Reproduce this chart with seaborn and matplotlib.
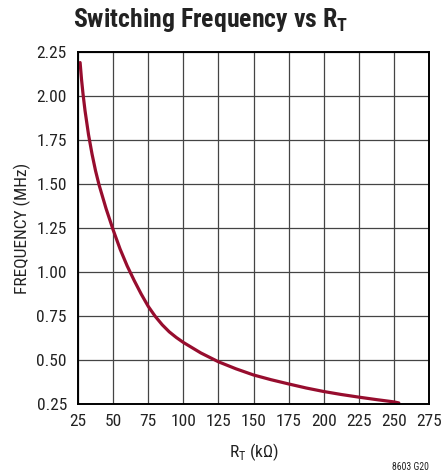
import matplotlib
matplotlib.use("Agg")
import matplotlib.pyplot as plt
import seaborn as sns
import pandas as pd

# Data
rt_kohm = [26.5, 27.5, 28.6, 30, 32.5, 35, 37.5, 40, 45, 50, 55, 60, 65, 70, 75,
           80, 85, 90, 95, 100, 112.5, 125, 137.5, 150, 162.5, 175, 187.5, 200,
           212.5, 225, 237.5, 250, 253.5]
freq_mhz = [2.19, 2.095, 2.01, 1.917, 1.78, 1.67, 1.575, 1.495, 1.36, 1.24, 1.13,
            1.035, 0.952, 0.875, 0.805, 0.748, 0.70, 0.66, 0.628, 0.60, 0.54,
            0.49, 0.45, 0.415, 0.388, 0.364, 0.341, 0.321, 0.304, 0.289, 0.275,
            0.262, 0.256]
x_ticks = [25, 50, 75, 100, 125, 150, 175, 200, 225, 250, 275]
y_ticks = [0.25, 0.50, 0.75, 1.00, 1.25, 1.50, 1.75, 2.00, 2.25]

df = pd.DataFrame({"RT": rt_kohm, "F": freq_mhz})

sns.set_theme(style="white")
FAM = ["Roboto Condensed", "Liberation Sans Narrow", "Roboto", "DejaVu Sans"]
plt.rcParams["font.family"] = FAM

fig = plt.figure(figsize=(4.45, 4.76), dpi=100)
ax = fig.add_axes([78/445, 1-404/476, (429-78)/445, (404-52)/476])

sns.lineplot(data=df, x="RT", y="F", ax=ax, color="#970d2e", linewidth=2.3,
             estimator=None, sort=False)

ax.set_xlim(25, 275)
ax.set_ylim(0.25, 2.25)
ax.set_xticks(x_ticks)
ax.set_yticks(y_ticks)
ax.set_xticklabels([str(v) for v in x_ticks])
ax.set_yticklabels([f"{v:.2f}" for v in y_ticks])
ax.grid(True, color="#444444", linewidth=0.9)
ax.set_axisbelow(True)
for s in ax.spines.values():
    s.set_color("black")
    s.set_linewidth(1.4)
ax.tick_params(axis="x", length=0, pad=7, labelsize=12.5, colors="#222222")
ax.tick_params(axis="y", length=0, pad=8, labelsize=12.5, colors="#222222")
ax.set_xlabel(r"R$_\mathregular{T}$ (kΩ)", fontsize=12.5, color="#222222", labelpad=9)
ax.set_ylabel("FREQUENCY (MHz)", fontsize=12.5, color="#222222", labelpad=4)

fig.text(211/445, 1-20/476, r"Switching Frequency vs R$_\mathregular{T}$",
         ha="center", va="center", fontsize=18.5, fontweight="bold", color="#222222")
fig.text(410/445, 1-467/476, "8603 G20", ha="center", va="center",
         fontsize=7, color="#222222")

fig.savefig("out.png", dpi=100)
